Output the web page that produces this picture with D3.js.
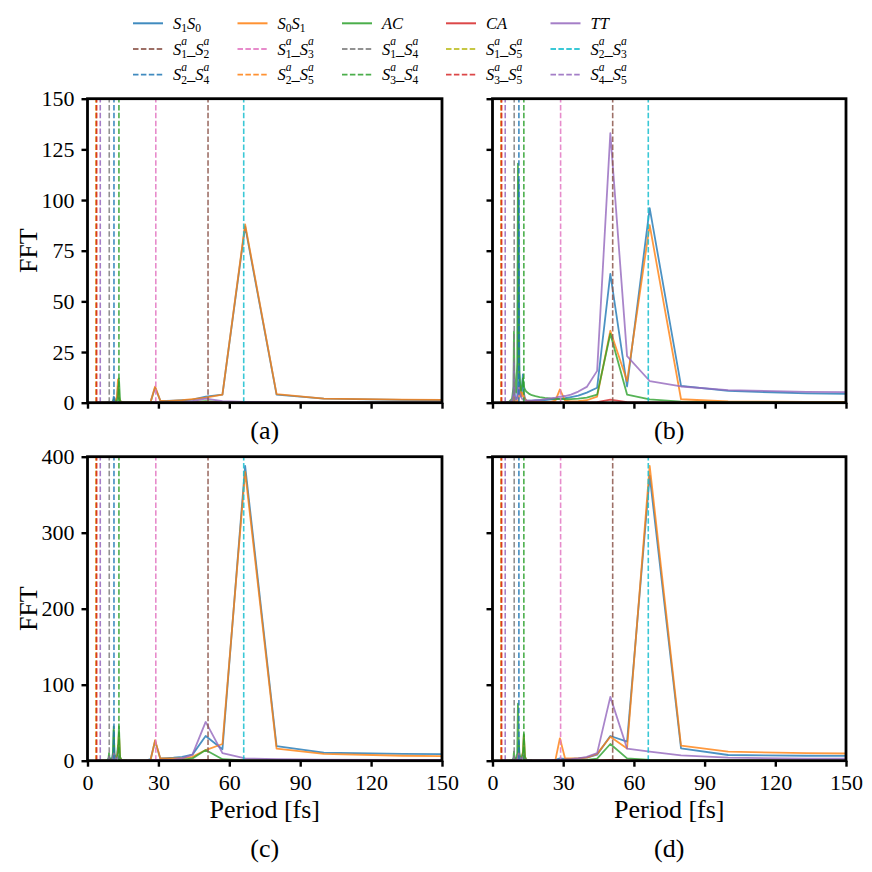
<!DOCTYPE html>
<html><head><meta charset="utf-8">
<script src="https://cdn.jsdelivr.net/npm/d3@7"></script>
<style>html,body{margin:0;padding:0;background:#fff;}svg{display:block;font-family:'Liberation Serif','Times New Roman',serif;}</style>
</head><body>
<svg id="chart" width="872" height="872"></svg>
<script>
// ---------- DATA ----------
const periods = [200,133.3,100,80,66.7,57.1,50,44.4,40,36.4,
  33.3,30.8,28.6,26.7,25,22.2,20,18.2,16.7,15.4,
  14.3,13.8,13.3,12.9,12.5,12.1,11.8,11.4,11.1,10.8,
  10.5,10.0,9.5,9.3,9.1,8.9,8.3,7.1,5.7,4.0];

const seriesNames = ["S_1S_0","S_0S_1","AC","CA","TT"];
const seriesColors = ["#1f77b4","#ff7f0e","#2ca02c","#d62728","#9467bd"];

// panel (a)
const s1s0_a = [1.0,1.4,2.0,4.0,87,4.0,3.0,1.5,1.2,1.0, 0.9,1.0,7.5,0.4,0.2,0.1,0.1,0.1,0.1,0.2, 0.3,0.8,2.0,8.0,3.0,1.0,1.0,2.0,3.0,1.0, 0.5,0.3,0.2,0.2,0.3,0.1,0.1,0,0,0];
const s0s1_a = [1.0,1.5,2.0,4.2,88,4.0,2.5,1.8,1.3,1.0, 0.8,1.0,8.0,0.3,0.1,0.1,0.1,0.1,0.1,0.2, 0.4,1.0,3.0,11.5,3.5,1.2,0.6,0.4,0.3,0.2, 0.1,0.1,0.1,0.1,0.1,0.1,0,0,0,0];
const ac_a   = [0.1,0.1,0.1,0.2,0.3,0.3,0.8,0.3,0.2,0.2, 0.1,0.1,0.2,0.1,0.1,0.1,0.1,0.1,0.2,0.2, 0.3,1.0,12,3.0,1.0,0.5,0.5,1.0,1.5,0.5, 0.3,0.2,0.2,0.3,0.5,0.2,0.1,0,0,0];
const ca_a   = [0,0,0,0,0.1,0.1,0.3,0.1,0,0, 0,0,0,0,0,0,0,0,0,0, 0,0,0,0,0,0,0,0,0,0, 0,0,0,0,0,0,0,0,0,0];
const tt_a   = [0.2,0.2,0.2,0.3,0.4,0.8,2.0,0.8,0.3,0.2, 0.1,0.1,0.1,0.1,0,0,0,0,0,0, 0,0,0.2,0.3,0.2,0.2,0.3,0.5,1.0,0.4, 0.2,0.1,0.1,0.1,0.2,0.1,0,0,0,0];

// panel (b)
const s1s0_b = [3.8,4.6,5.8,8.3,96,8.0,63.6,7.4,5.0,3.5, 2.8,2.2,2.0,1.8,1.6,1.3,1.2,1.1,1.0,1.0, 1.2,2.0,5.0,14,6.0,3.0,5.0,15,110,10, 3.0,1.5,3.0,5.0,8.0,2.0,0.5,0.2,0.1,0];
const s0s1_b = [0.3,0.4,0.6,1.7,87.6,10.7,35.5,3.0,1.2,0.8, 0.6,1.0,6.6,1.0,0.5,0.4,0.4,0.5,0.6,0.8, 1.0,2.0,3.0,5.0,3.0,5.0,8.0,4.0,2.0,1.0, 0.8,0.6,1.0,2.0,3.0,1.0,0.3,0.1,0,0];
const ac_b   = [0.1,0.2,0.3,0.5,1.6,4.0,34,4.0,2.5,2.0, 1.8,1.8,1.8,1.9,2.0,2.4,2.8,3.2,3.7,4.5, 5.5,6.5,8.0,12,8.0,6.0,8.0,15,40,118, 20,5.0,10,15,35,8.0,2.0,0.5,0.2,0];
const ca_b   = [0,0,0,0,0.1,0.3,1.5,0.3,0.1,0, 0,0,0,0,0,0,0,0,0,0, 0,0,0,0,0,0,0,0,0,0, 0,0,0,0,0,0,0,0,0,0];
const tt_b   = [4.8,5.3,6.2,8.0,10.7,23,133,15.7,7.8,5.5, 4.0,3.3,3.0,2.5,2.2,1.8,1.3,1.2,1.0,1.0, 1.0,1.2,2.0,1.5,2.0,3.0,4.0,5.0,8.0,4.0, 2.0,1.5,3.0,8.0,20,5.0,1.0,0.3,0.1,0];

// panel (c)
const s1s0_c = [7.5,9.0,10.5,19.3,388,15,32.5,8.0,5.0,4.0, 3.5,3.0,26,2.0,0.5,0.3,0.3,0.3,0.3,0.5, 1.0,3.0,10,20,8.0,4.0,5.0,10,40,12, 4.0,2.0,2.0,3.0,6.0,2.0,0.5,0.2,0.1,0];
const s0s1_c = [5.0,6.5,9.0,16,380,22,14,5.0,3.0,3.0, 3.0,3.0,27,1.0,0.3,0.2,0.2,0.2,0.3,0.5, 1.0,4.0,36,15,6.0,3.0,3.0,5.0,8.0,4.0, 2.0,1.0,1.0,1.5,3.0,1.0,0.3,0.1,0,0];
const ac_c   = [0.1,0.2,0.3,0.5,0.5,2.0,14,3.0,1.0,0.5, 0.4,0.3,0.3,0.2,0.2,0.2,0.2,0.2,0.3,0.5, 1.0,5.0,45,10,4.0,2.0,3.0,8.0,45,10, 3.0,2.0,3.0,5.0,10,3.0,0.5,0.1,0,0];
const ca_c   = [0,0,0,0,0.2,0.3,1.0,0.3,0,0, 0,0,0,0,0,0,0,0,0,0, 0,0,0,0,0,0,0,0,0,0, 0,0,0,0,0,0,0,0,0,0];
const tt_c   = [1.0,1.2,1.5,2.0,3.0,10,51,8.0,3.0,1.5, 1.0,1.0,0.8,0.5,0.3,0.2,0.2,0.2,0.2,0.3, 0.5,1.0,3.0,5.0,3.0,2.0,3.0,5.0,10,4.0, 2.0,1.0,1.0,2.0,5.0,1.0,0.2,0,0,0];

// panel (d)
const s1s0_d = [5.5,6.5,7.5,16.3,375,25,32.5,8.0,4.0,3.0, 2.5,2.5,3.0,1.0,0.3,0.2,0.2,0.2,0.3,0.5, 1.0,3.0,8.0,10,5.0,3.0,4.0,8.0,25,8.0, 3.0,2.0,2.0,3.0,5.0,2.0,0.5,0.1,0,0];
const s0s1_d = [8.0,10,11.9,19.7,388,16,31.6,9.0,4.0,3.0, 3.0,3.0,29.5,1.0,0.3,0.2,0.2,0.2,0.3,0.5, 1.0,5.0,33.5,12,5.0,3.0,3.0,5.0,10,4.0, 2.0,1.0,1.0,2.0,4.0,1.0,0.3,0.1,0,0];
const ac_d   = [0.1,0.2,0.3,0.5,1.0,3.0,22,2.7,1.0,0.5, 0.4,0.3,0.3,0.2,0.2,0.2,0.2,0.2,0.3,0.5, 1.0,5.0,35,10,4.0,2.0,3.0,10,30,75, 10,3.0,3.0,5.0,12,3.0,0.5,0.1,0,0];
const ca_d   = [0,0,0,0,0.2,0.3,1.0,0.3,0,0, 0,0,0,0,0,0,0,0,0,0, 0,0,0,0,0,0,0,0,0,0, 0,0,0,0,0,0,0,0,0,0];
const tt_d   = [2.0,2.8,4.0,7.0,12,16,84,10,5.0,3.0, 2.0,1.5,1.2,1.0,0.8,0.6,0.5,0.5,0.5,0.6, 0.8,1.5,3.0,5.0,3.0,2.0,3.0,5.0,10,4.0, 2.0,1.0,1.0,2.0,5.0,1.0,0.2,0,0,0];

// transition periods (vertical dashed lines)
const transNames  = ["S_1^a\\_S_2^a","S_1^a\\_S_3^a","S_1^a\\_S_4^a","S_1^a\\_S_5^a","S_2^a\\_S_3^a",
                     "S_2^a\\_S_4^a","S_2^a\\_S_5^a","S_3^a\\_S_4^a","S_3^a\\_S_5^a","S_4^a\\_S_5^a"];
const transPeriods = [51.0, 28.9, 9.2, 3.6, 66.1, 11.2, 3.75, 13.3, 3.85, 5.4];
const transColors  = ["#8c564b","#e377c2","#7f7f7f","#bcbd22","#17becf",
                      "#1f77b4","#ff7f0e","#2ca02c","#d62728","#9467bd"];

const panelLetters = ["(a)","(b)","(c)","(d)"];
const yMaxes = [150,150,400,400];
const yTicksTop = [0,25,50,75,100,125,150];
const yTicksBottom = [0,100,200,300,400];
const xTicks = [0,30,60,90,120,150];

// ---------- LAYOUT ----------
const svg = d3.select("#chart");
const FONT = "'Liberation Serif','Times New Roman',serif";
const colX = [[87.5,442],[492.5,846]];
const rowY = [[98.7,402.7],[456.7,760.7]];

const panelSeries = [
  [s1s0_a,s0s1_a,ac_a,ca_a,tt_a],
  [s1s0_b,s0s1_b,ac_b,ca_b,tt_b],
  [s1s0_c,s0s1_c,ac_c,ca_c,tt_c],
  [s1s0_d,s0s1_d,ac_d,ca_d,tt_d]
];

// mathtext-like label renderer
function parseMath(str){
  const toks=[]; let i=0;
  while(i<str.length){
    const c=str[i];
    if(c==="\\" && str[i+1]==="_"){toks.push({t:"_",k:"n",it:false});i+=2;}
    else if(c==="_"){toks.push({t:str[i+1],k:"sub",it:/[A-Za-z]/.test(str[i+1])});i+=2;}
    else if(c==="^"){toks.push({t:str[i+1],k:"sup",it:/[A-Za-z]/.test(str[i+1])});i+=2;}
    else {toks.push({t:c,k:"n",it:/[A-Za-z]/.test(c)});i+=1;}
  }
  return toks;
}
function drawMath(g,x,y,str,size){
  const toks=parseMath(str);
  const t=g.append("text").attr("x",x).attr("y",y)
    .style("font-family",FONT).style("font-size",size+"px").attr("fill","#000");
  const subOff=0.22*size, supOff=-0.58*size, ss=0.7*size;
  let cur=0, pendDx=0;
  for(let i=0;i<toks.length;i++){
    const tk=toks[i];
    if(tk.k==="n"){
      t.append("tspan").text(tk.t).attr("dy",-cur).attr("dx",pendDx)
        .style("font-style",tk.it?"italic":"normal");
      cur=0; pendDx=0;
    } else {
      const off = tk.k==="sub"?subOff:supOff;
      const sp=t.append("tspan").text(tk.t).attr("dy",off-cur).attr("dx",pendDx)
        .style("font-size",ss+"px").style("font-style",tk.it?"italic":"normal");
      cur=off; pendDx=0;
      const nx=toks[i+1];
      if(nx && (nx.k==="sub"||nx.k==="sup") && nx.k!==tk.k){
        const w1=sp.node().getComputedTextLength();
        const off2 = nx.k==="sub"?subOff:supOff;
        const sp2=t.append("tspan").text(nx.t).attr("dy",off2-cur).attr("dx",-w1)
          .style("font-size",ss+"px").style("font-style",nx.it?"italic":"normal");
        const w2=sp2.node().getComputedTextLength();
        cur=off2;
        pendDx = Math.max(0,w1-w2);
        i++;
      }
    }
  }
  return t;
}

// ---------- PANELS ----------
for(let p=0;p<4;p++){
  const r=Math.floor(p/2), c=p%2;
  const [x0,x1]=colX[c], [y0,y1]=rowY[r];
  const x=d3.scaleLinear().domain([0,150]).range([x0,x1]);
  const y=d3.scaleLinear().domain([0,yMaxes[p]]).range([y1,y0]);
  const g=svg.append("g");
  const cid="clip"+p;
  svg.append("clipPath").attr("id",cid).append("rect")
    .attr("x",x0).attr("y",y0).attr("width",x1-x0).attr("height",y1-y0);
  const plot=g.append("g").attr("clip-path",`url(#${cid})`);

  const line=d3.line().x((d,i)=>x(periods[i])).y(d=>y(d));
  panelSeries[p].forEach((vals,si)=>{
    plot.append("path").datum(vals).attr("d",line)
      .attr("fill","none").attr("stroke",seriesColors[si])
      .attr("stroke-width",1.8).attr("stroke-opacity",0.8)
      .attr("stroke-linejoin","round");
  });
  transPeriods.forEach((tp,ti)=>{
    plot.append("line").attr("x1",x(tp)).attr("x2",x(tp)).attr("y1",y1).attr("y2",y0)
      .attr("stroke",transColors[ti]).attr("stroke-width",1.6).attr("stroke-opacity",0.85)
      .attr("stroke-dasharray","5.5,2.4");
  });

  // axes
  const yt = r===0?yTicksTop:yTicksBottom;
  const ax=g.append("g").attr("transform",`translate(${x0},0)`)
    .call(d3.axisLeft(y).tickValues(yt).tickSize(6).tickPadding(7)
      .tickFormat(c===0?d3.format("d"):()=>""));
  const bx=g.append("g").attr("transform",`translate(0,${y1})`)
    .call(d3.axisBottom(x).tickValues(xTicks).tickSize(6).tickPadding(8)
      .tickFormat(r===1?d3.format("d"):()=>""));
  [ax,bx].forEach(a=>{
    a.select(".domain").remove();
    a.selectAll(".tick line").attr("stroke","#000").attr("stroke-width",2.4);
    a.selectAll(".tick text").style("font-family",FONT).style("font-size","22px").attr("fill","#000");
  });
  g.append("rect").attr("x",x0).attr("y",y0).attr("width",x1-x0).attr("height",y1-y0)
    .attr("fill","none").attr("stroke","#000").attr("stroke-width",2.8);

  const cx=(x0+x1)/2;
  if(r===1){
    g.append("text").attr("x",cx).attr("y",818).attr("text-anchor","middle")
      .style("font-family",FONT).style("font-size","26px").text("Period [fs]");
    g.append("text").attr("x",cx).attr("y",857).attr("text-anchor","middle")
      .style("font-family",FONT).style("font-size","26px").text(panelLetters[p]);
  } else {
    g.append("text").attr("x",cx).attr("y",439).attr("text-anchor","middle")
      .style("font-family",FONT).style("font-size","26px").text(panelLetters[p]);
  }
  if(c===0){
    g.append("text").attr("transform",`translate(37,${(y0+y1)/2}) rotate(-90)`)
      .attr("text-anchor","middle").style("font-family",FONT).style("font-size","26px").text("FFT");
  }
}

// ---------- LEGEND ----------
const legItems = seriesNames.map((n,i)=>({name:n,color:seriesColors[i],dash:false}))
  .concat(transNames.map((n,i)=>({name:n,color:transColors[i],dash:true})));
const legColX=[133,237.5,342,446,550.5];
const legRowY=[23.3,49,74.7];
const leg=svg.append("g");
legItems.forEach((it,k)=>{
  const row=Math.floor(k/5), col=k%5;
  const lx=legColX[col], ly=legRowY[row];
  leg.append("line").attr("x1",lx).attr("x2",lx+30).attr("y1",ly).attr("y2",ly)
    .attr("stroke",it.color).attr("stroke-width",it.dash?1.8:2).attr("stroke-opacity",0.85)
    .attr("stroke-dasharray",it.dash?"5.5,2.4":null);
  drawMath(leg,lx+40,ly+5.5,it.name,16.5);
});
</script>
</body></html>
